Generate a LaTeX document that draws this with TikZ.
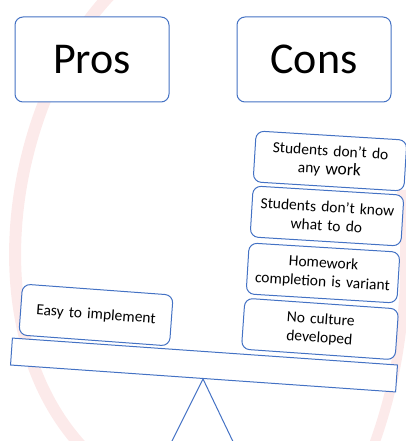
\documentclass[tikz,border=0pt]{standalone}
\usepackage{fontspec}
\setmainfont{Carlito}
\definecolor{boxblue}{HTML}{4472C4}
\definecolor{logopink}{HTML}{FCEAEA}

\begin{document}
\begin{tikzpicture}[x=1pt, y=-1pt,
  box/.style={draw=boxblue, line width=1pt, rounded corners=8pt, fill=white, align=center, inner sep=0pt},
  bigbox/.style={box, minimum width=154pt, minimum height=85pt, font=\fontsize{44}{50}\selectfont},
  smallbox/.style={box, minimum width=151pt, minimum height=51pt, text width=148pt, font=\fontsize{15.5}{18.5}\selectfont, rotate=-3.5}]

\useasboundingbox (0,0) rectangle (406,441);

% faint logo arcs behind
\draw [logopink, line width=12pt] (110,-5) .. controls (10,100) and (-30,330) .. (85,450);
\draw [logopink, line width=10pt] (402,190) .. controls (412,300) and (398,380) .. (372,450);

\node [bigbox] (pros) at (92,59.5) {Pros};
\node [bigbox] (cons) at (314,59.5) {Cons};

\node [smallbox] (work) at (330,161) {Students don’t do\\ any {\fontsize{17.5}{18.5}\selectfont work}};
\node [smallbox] (know) at (327,216) {Students don’t know\\ what to do};
\node [smallbox] (homework) at (323,273) {Homework\\ completion is variant};
\node [smallbox, minimum width=154pt, rotate=-0.5] (culture) at (320,329) {No culture\\ developed};

\node [smallbox, rotate=-0.7] (easy) at (96,315) {Easy to implement};

% the seesaw
\node [draw=boxblue, line width=1pt, fill=white, minimum width=386pt, minimum height=27pt, inner sep=0pt, rotate=-4] (plank) at (204,365) {};

\coordinate (footL) at (167.5,450);
\coordinate (footR) at (237,450);
\draw [boxblue, line width=1pt] (footL) -- (plank.south) -- (footR);

\end{tikzpicture}
\end{document}
